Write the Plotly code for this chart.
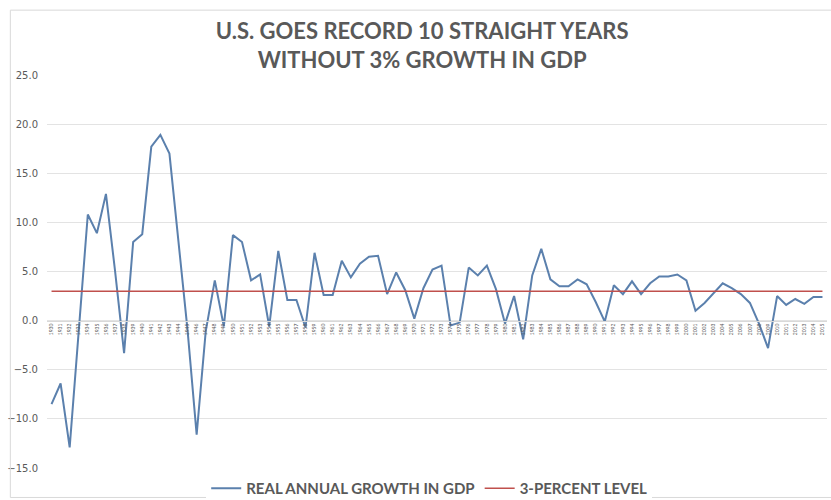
import plotly.graph_objects as go

years = list(range(1930, 2016))
gdp_growth = [
    -8.5, -6.4, -12.9, -1.2, 10.8, 8.9, 12.9, 5.1, -3.3, 8.0,
    8.8, 17.7, 18.9, 17.0, 8.0, -1.0, -11.6, -1.1, 4.1, -0.6,
    8.7, 8.0, 4.1, 4.7, -0.6, 7.1, 2.1, 2.1, -0.7, 6.9,
    2.6, 2.6, 6.1, 4.4, 5.8, 6.5, 6.6, 2.7, 4.9, 3.1,
    0.2, 3.3, 5.2, 5.6, -0.5, -0.2, 5.4, 4.6, 5.6, 3.2,
    -0.3, 2.5, -1.9, 4.6, 7.3, 4.2, 3.5, 3.5, 4.2, 3.7,
    1.9, -0.1, 3.6, 2.7, 4.0, 2.7, 3.8, 4.5, 4.5, 4.7,
    4.1, 1.0, 1.8, 2.8, 3.8, 3.3, 2.7, 1.8, -0.3, -2.8,
    2.5, 1.6, 2.2, 1.7, 2.4, 2.4,
]
three_pct = [3.0] * len(years)
year_labels = [str(y) for y in years]

fig = go.Figure()
fig.add_trace(go.Scatter(
    x=year_labels, y=gdp_growth, mode="lines",
    name="<b>REAL ANNUAL GROWTH IN GDP</b>",
    line=dict(color="#5b80ad", width=2),
))
fig.add_trace(go.Scatter(
    x=year_labels, y=three_pct, mode="lines",
    name="<b>3-PERCENT LEVEL</b>",
    line=dict(color="#c0504d", width=1.5),
))

fig.update_layout(
    width=831, height=500,
    paper_bgcolor="white", plot_bgcolor="white",
    margin=dict(l=47, r=4, t=75, b=32, autoexpand=False),
    font=dict(family="Lato, sans-serif", color="#595959"),
    title=dict(
        text="<b>U.S. GOES RECORD 10 STRAIGHT YEARS<br>WITHOUT 3% GROWTH IN GDP</b>",
        x=0.508, xanchor="center", y=0.922, yanchor="top",
        font=dict(size=22, color="#595959", family="Lato, sans-serif"),
        automargin=False,
    ),
    showlegend=True,
    legend=dict(
        orientation="h", x=0.49, xanchor="center", y=-0.01, yanchor="top",
        font=dict(size=15, color="#595959", family="Lato, sans-serif"),
        itemwidth=30,
    ),
    xaxis=dict(
        type="category", anchor="free", position=0.375,
        range=[-0.5, len(years) - 0.5],
        tickangle=-90, tickfont=dict(size=5, color="#595959"),
        showgrid=False, showline=True, linecolor="#d9d9d9", linewidth=1,
        ticks="", zeroline=False, automargin=False,
    ),
    yaxis=dict(
        range=[-15, 25], dtick=5, tickformat=".1f",
        showgrid=True, gridcolor="#e3e3e3", gridwidth=1,
        zeroline=False, showline=False, automargin=False,
        tickfont=dict(size=10, color="#595959", family="DejaVu Sans"),
        ticklabelstandoff=8,
    ),
)

fig.add_shape(type="rect", xref="paper", yref="paper",
              x0=-0.047, x1=1.01, y0=-0.075, y1=1.165,
              line=dict(color="#d9d9d9", width=1))

fig.write_html("out.html", config={"displayModeBar": False})

# remove the default 8px page margin so the figure sits at the window's corner
with open("out.html", "r", encoding="utf-8") as f:
    html = f.read()
html = html.replace("<head>", "<head><style>html,body{margin:0;padding:0;overflow:hidden;}</style>", 1)
with open("out.html", "w", encoding="utf-8") as f:
    f.write(html)
